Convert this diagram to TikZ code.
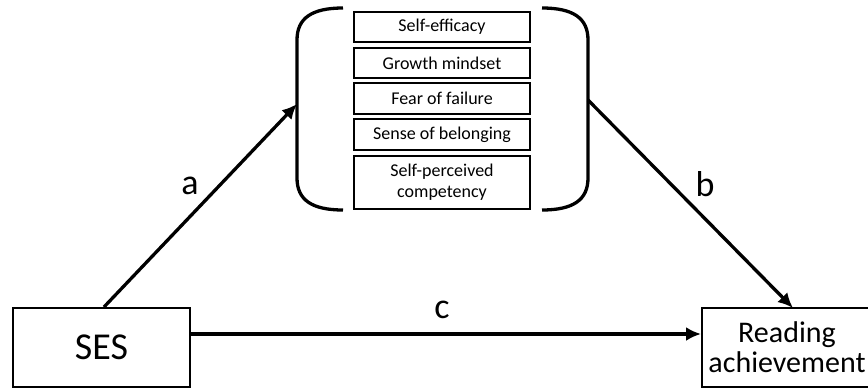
\documentclass[tikz,border=0pt]{standalone}
\usepackage{fontspec}
\setmainfont{Carlito}
\usetikzlibrary{arrows.meta}
\begin{document}
\begin{tikzpicture}[x=1pt,y=-1pt,
  item/.style={draw,line width=2pt,minimum width=176pt,inner sep=0pt,align=center,font=\fontsize{18}{21}\selectfont},
  bigbox/.style={draw,line width=2pt,inner sep=0pt,align=center},
  conn/.style={line width=3.3pt,-{Latex[length=15pt,width=14pt]}},
  brack/.style={line width=3.3pt},
  lab/.style={font=\fontsize{36}{36}\selectfont,inner sep=0pt}]
\useasboundingbox (0,0) rectangle (868,389);
% mediator boxes
\node[item,minimum height=30pt] (m1) at (442,27) {Self-efficacy};
\node[item,minimum height=30pt] (m2) at (442,63) {Growth mindset};
\node[item,minimum height=31pt] (m3) at (442,98.5) {Fear of failure};
\node[item,minimum height=31pt] (m4) at (442,134.5) {Sense of belonging};
\node[item,minimum height=53pt] (m5) at (442,182.5) {Self-perceived\\competency};
% brackets
\draw[brack] (343,8) .. controls (312,8) and (297,18) .. (297,40) -- (297,178) .. controls (297,200) and (312,210) .. (343,210);
\draw[brack] (542,8) .. controls (573,8) and (588,18) .. (588,40) -- (588,178) .. controls (588,200) and (573,210) .. (542,210);
\coordinate (lb) at (297,104);
\coordinate (rb) at (588,100);
% outer boxes
\node[bigbox,minimum width=177pt,minimum height=79pt,font=\fontsize{38}{38}\selectfont] (ses) at (101.5,347.5) {SES};
\node[bigbox,minimum width=170pt,minimum height=79pt,font=\fontsize{30}{30}\selectfont] (ra) at (787,347.5) {Reading\\achievement};
\coordinate (sa) at (104,307);
\coordinate (rt) at (793,308);
% connectors
\draw[conn] (sa) -- (lb);
\draw[conn] (rb) -- (rt);
\draw[conn] (ses.east |- 0,334) -- (ra.west |- 0,334);
% labels
\node[lab] (la) at (190,186) {a};
\node[lab] (lbb) at (705,184) {b};
\node[lab] (lc) at (442,310) {c};
\end{tikzpicture}
\end{document}
